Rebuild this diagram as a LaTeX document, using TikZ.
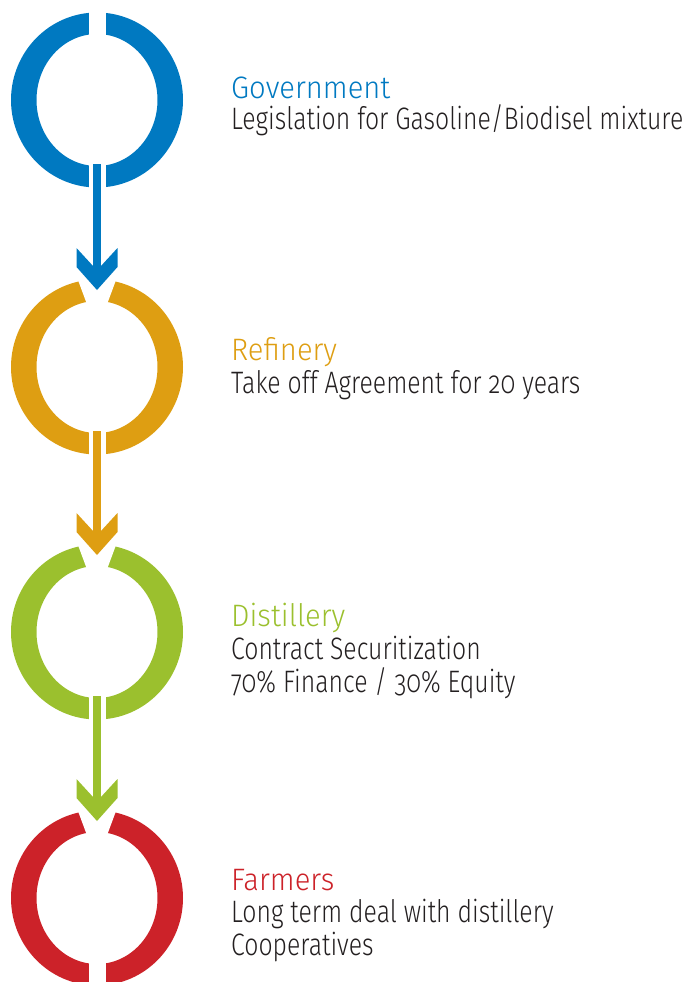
\documentclass[tikz,border=0pt]{standalone}
\usepackage{fontspec}
\setmainfont{Fira Sans Light}[Numbers=OldStyle, FakeStretch=0.8]
\newfontfamily\headfont{Fira Sans Light}[FakeStretch=0.94]
\usetikzlibrary{calc,arrows.meta}

\definecolor{govblue}{RGB}{0,121,193}
\definecolor{refgold}{RGB}{222,158,18}
\definecolor{distgreen}{RGB}{155,192,46}
\definecolor{farmred}{RGB}{204,34,41}
\definecolor{textgray}{RGB}{35,31,32}

% thick chevron head for the flow arrows
\pgfdeclarearrow{
  name = Chevron,
  setup code = {
    \pgfarrowssettipend{0pt}
    \pgfarrowssetlineend{-22pt}
    \pgfarrowssetvisualbackend{-42pt}
    \pgfarrowssetbackend{-42pt}
    \pgfarrowshullpoint{0pt}{0pt}
    \pgfarrowshullpoint{-42pt}{20.5pt}
    \pgfarrowshullpoint{-42pt}{-20.5pt}
  },
  drawing code = {
    \pgfpathmoveto{\pgfqpoint{0pt}{0pt}}
    \pgfpathlineto{\pgfqpoint{-23pt}{20.5pt}}
    \pgfpathlineto{\pgfqpoint{-42pt}{20.5pt}}
    \pgfpathlineto{\pgfqpoint{-23.5pt}{3.5pt}}
    \pgfpathlineto{\pgfqpoint{-23.5pt}{-3.5pt}}
    \pgfpathlineto{\pgfqpoint{-42pt}{-20.5pt}}
    \pgfpathlineto{\pgfqpoint{-23pt}{-20.5pt}}
    \pgfpathclose
    \pgfusepathqfill
  }
}

\tikzset{
  ring/.style={fill=#1, even odd rule},
  gap/.style={fill=white},
  flow/.style={line width=7.3, -Chevron, draw=#1, fill=#1},
  heading/.style={anchor=base west, inner sep=0, text=#1,
    font=\headfont\fontsize{31}{33}\selectfont},
  detail/.style={anchor=base west, inner sep=0, align=left, text=textgray,
    font=\fontsize{31}{33}\selectfont},
}

\begin{document}
\begin{tikzpicture}[x=1pt, y=-1pt]
    \useasboundingbox (0,0) rectangle (684,982);

    % ring centres
    \coordinate (gov) at (97,100);
    \coordinate (ref) at (97,367);
    \coordinate (dist) at (97,632);
    \coordinate (farm) at (97,898);

    % rings
    \foreach \c/\col in {gov/govblue, ref/refgold, dist/distgreen, farm/farmred}
        \fill[ring=\col] (\c) ellipse [x radius=86, y radius=87.5]
                         (\c) ellipse [x radius=60.5, y radius=66];

    % openings at top and bottom
    \fill[gap] ($(gov)+(-8.5,-95)$) rectangle ($(gov)+(8.5,-60)$);
    \foreach \c in {ref, dist, farm}
        \fill[gap] ($(\c)+(-9,-60)$) -- ($(\c)+(9,-60)$)
                   -- ($(\c)+(22,-95)$) -- ($(\c)+(-22,-95)$) -- cycle;
    \foreach \c in {gov, ref, dist, farm}
        \fill[gap] ($(\c)+(-8.5,60)$) rectangle ($(\c)+(8.5,95)$);

    % arrows between the rings
    \draw[flow=govblue] ($(gov)+(0,64)$) -- ($(ref)+(0,-77)$);
    \draw[flow=refgold] ($(ref)+(0,64)$) -- ($(dist)+(0,-77)$);
    \draw[flow=distgreen] ($(dist)+(0,64)$) -- ($(farm)+(0,-77)$);

    % labels (base of a two-line node is its last line)
    \node[heading=govblue] (govtitle) at (231,98) {Government};
    \node[detail] (govtext) at (231,129) {Legislation for Gasoline/Biodisel mixture};

    \node[heading=refgold] (reftitle) at (231,360) {Refinery};
    \node[detail] (reftext) at (231,393) {Take off Agreement for 20 years};

    \node[heading=distgreen] (disttitle) at (231,626) {Distillery};
    \node[detail] (disttext) at (231,692) {Contract Securitization\\70\% Finance / 30\% Equity};

    \node[heading=farmred] (farmtitle) at (231,890) {Farmers};
    \node[detail] (farmtext) at (231,955) {Long term deal with distillery\\Cooperatives};
\end{tikzpicture}
\end{document}
